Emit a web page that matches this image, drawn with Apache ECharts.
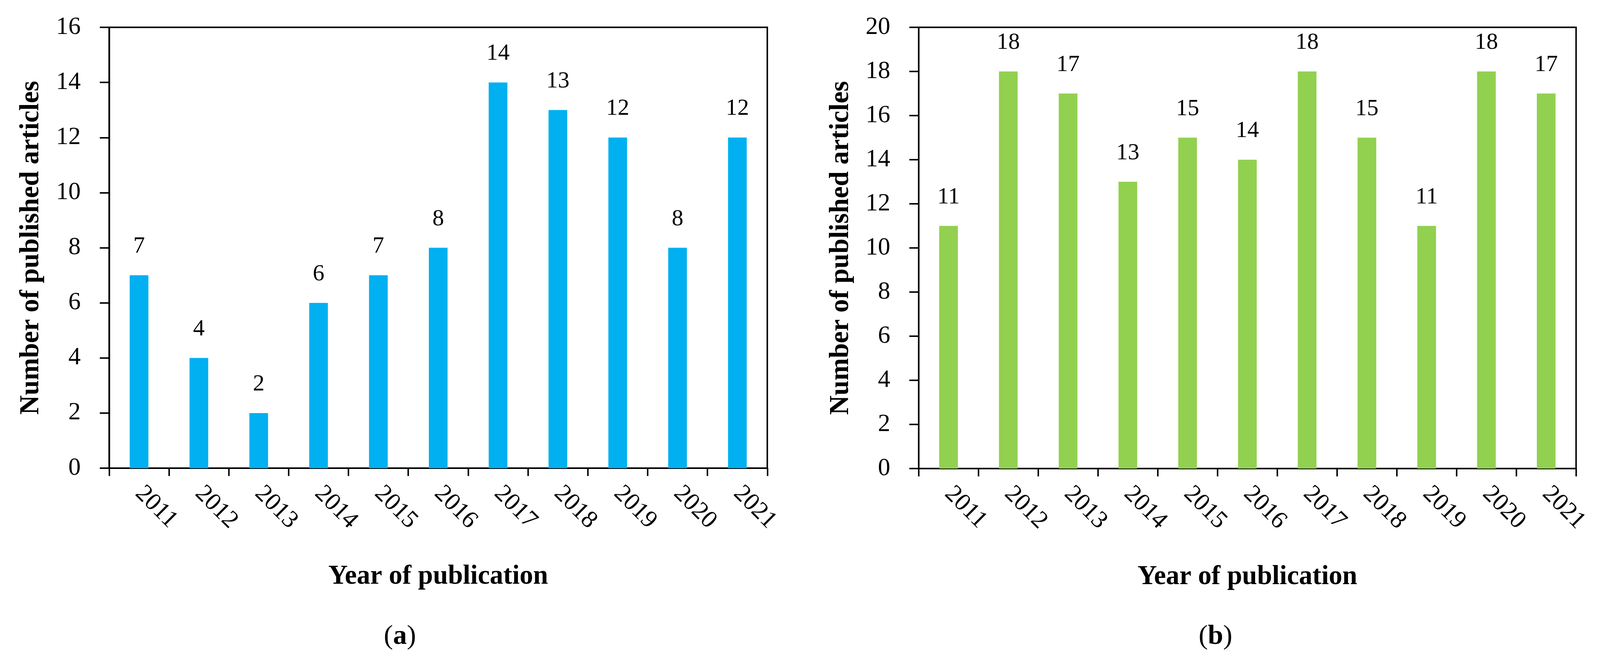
<!DOCTYPE html>
<html>
<head>
<meta charset="utf-8">
<script src="https://cdn.jsdelivr.net/npm/echarts@6/dist/echarts.min.js"></script>
<style>
html,body{margin:0;padding:0;background:#fff;overflow:hidden;}
#c{width:100vw;height:100vh;}
</style>
</head>
<body>
<div id="c"></div>
<script>
const years = ['2011','2012','2013','2014','2015','2016','2017','2018','2019','2020','2021'];
const articlesA = [7,4,2,6,7,8,14,13,12,8,12];
const articlesB = [11,18,17,13,15,14,18,15,11,18,17];
const yTicksA = {min:0, max:16, interval:2};
const yTicksB = {min:0, max:20, interval:2};
const yTitle = 'Number of published articles';
const xTitle = 'Year of publication';

const FONT = 'Liberation Serif';
const W = window.innerWidth, H = window.innerHeight;
const sx = W / 4281, sy = H / 1698, s = Math.min(sx, sy);
const chart = echarts.init(document.getElementById('c'), null, {renderer:'canvas'});

function xAxisCfg(gi){
  return {
    type:'category', gridIndex:gi, data:years,
    axisLine:{show:true, lineStyle:{color:'#000', width:4*s}},
    axisTick:{show:true, length:21*s, lineStyle:{color:'#000', width:4*s}},
    axisLabel:{rotate:-45, margin:58*s, fontSize:66*s, color:'#000', fontFamily:FONT},
    name:xTitle, nameLocation:'middle', nameGap:244*sy,
    nameTextStyle:{fontSize:72*s, fontWeight:'bold', color:'#000', fontFamily:FONT}
  };
}
function yAxisCfg(gi, t){
  return {
    type:'value', gridIndex:gi, min:t.min, max:t.max, interval:t.interval,
    axisLine:{show:true, lineStyle:{color:'#000', width:4*s}},
    axisTick:{show:true, length:25*s, lineStyle:{color:'#000', width:4*s}},
    splitLine:{show:false},
    axisLabel:{margin:76*sx, fontSize:66*s, color:'#000', fontFamily:FONT},
    name:yTitle, nameLocation:'middle', nameGap:172*sx, nameRotate:90,
    nameTextStyle:{fontSize:72*s, fontWeight:'bold', color:'#000', fontFamily:FONT}
  };
}
function barCfg(i, data, color){
  return {
    type:'bar', xAxisIndex:i, yAxisIndex:i, data:data, barWidth:50*sx,
    itemStyle:{color:color},
    label:{show:true, position:'top', distance:44*sy, fontSize:62*s, color:'#000', fontFamily:FONT},
    silent:true
  };
}
function capText(letter, cx, cy){
  return {type:'text', left:(cx-46)*sx, top:(cy-42)*sy, style:{
    text:'{p|(}{b|' + letter + '}{p|)}', rich:{
      p:{fontSize:74*s, fontFamily:FONT, fill:'#000'},
      b:{fontSize:74*s, fontFamily:FONT, fontWeight:'bold', fill:'#000'}
    }}};
}

chart.setOption({
  backgroundColor:'#fff',
  animation:false,
  grid:[
    {left:292*sx, top:70*sy, width:1761*sx, height:1129*sy, show:true, borderColor:'#000', borderWidth:4*s},
    {left:2458*sx, top:70*sy, width:1759*sx, height:1130*sy, show:true, borderColor:'#000', borderWidth:4*s}
  ],
  xAxis:[xAxisCfg(0), xAxisCfg(1)],
  yAxis:[yAxisCfg(0, yTicksA), yAxisCfg(1, yTicksB)],
  series:[barCfg(0, articlesA, '#00B0F0'), barCfg(1, articlesB, '#92D050')],
  graphic:[capText('a', 1073, 1637), capText('b', 3253, 1637)]
});
</script>
</body>
</html>
